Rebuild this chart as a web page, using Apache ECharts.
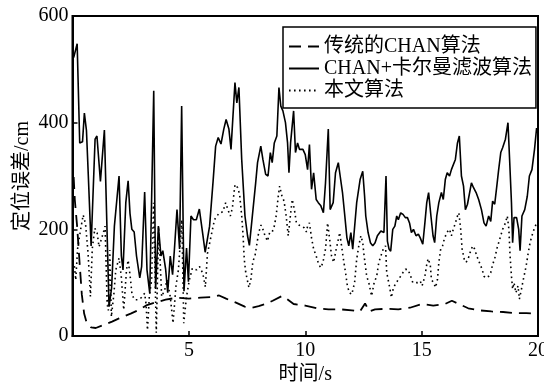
<!DOCTYPE html>
<html><head><meta charset="utf-8">
<script src="https://cdn.jsdelivr.net/npm/echarts@6/dist/echarts.min.js"></script>
<style>html,body{margin:0;padding:0;background:#fff}#c{width:544px;height:383px}</style>
</head><body><div id="c"></div>
<script>
var seriesNames = ['传统的CHAN算法', 'CHAN+卡尔曼滤波算法', '本文算法'];
var xTicks = [0, 5, 10, 15, 20];
var yTicks = [0, 200, 400, 600];

var chanData = [[0.05,298],[0.1,255],[0.2,205],[0.3,140],[0.4,78],[0.5,42],[0.6,26],[0.8,16],[1.0,15],[1.3,20],[1.7,27],[2.0,33],[2.5,42],[2.9,50],[3.2,58],[3.5,62],[4.0,68],[4.5,72],[5.0,70],[5.5,72],[6.0,73],[6.3,76],[6.6,70],[7.0,63],[7.4,55],[7.7,53],[8.0,56],[8.3,60],[8.6,66],[9.0,75],[9.2,70],[9.5,60],[10.0,57],[10.5,52],[11.0,50],[11.5,50],[12.0,48],[12.35,46],[12.57,61],[12.75,46],[13.0,50],[13.5,51],[14.0,50],[14.5,53],[15.0,60],[15.5,57],[16.0,60],[16.3,66],[16.6,60],[17.0,52],[17.5,48],[18.0,46],[18.5,45],[19.0,43],[19.5,43],[20.0,42]];

var kalmanData = [[0.05,522],[0.2,548],[0.31,362],[0.43,364],[0.51,418],[0.6,385],[0.68,300],[0.8,169],[0.97,369],[1.05,375],[1.2,290],[1.37,386],[1.57,55],[1.68,90],[1.8,206],[2.0,300],[2.1,150],[2.17,124],[2.29,250],[2.39,291],[2.47,230],[2.55,200],[2.65,195],[2.75,150],[2.89,109],[2.97,130],[3.1,270],[3.2,124],[3.32,80],[3.49,460],[3.57,88],[3.69,206],[3.8,150],[3.88,160],[4.0,126],[4.09,81],[4.2,150],[4.3,115],[4.38,163],[4.49,237],[4.6,163],[4.69,431],[4.79,84],[4.9,165],[4.98,102],[5.09,225],[5.2,218],[5.32,218],[5.45,238],[5.6,190],[5.7,157],[5.89,206],[6.04,290],[6.15,356],[6.26,372],[6.38,360],[6.5,388],[6.6,406],[6.72,388],[6.81,350],[6.98,475],[7.06,437],[7.15,466],[7.27,331],[7.41,225],[7.52,188],[7.6,170],[7.72,222],[7.87,287],[7.95,325],[8.09,356],[8.18,331],[8.3,303],[8.4,300],[8.5,344],[8.58,325],[8.67,362],[8.78,375],[8.87,466],[8.95,431],[9.04,422],[9.15,400],[9.24,362],[9.3,306],[9.37,362],[9.5,422],[9.58,344],[9.67,362],[9.75,350],[9.9,350],[10.0,340],[10.1,312],[10.18,359],[10.27,275],[10.36,306],[10.47,256],[10.56,250],[10.67,244],[10.78,231],[10.87,287],[10.99,388],[11.07,237],[11.2,250],[11.3,306],[11.42,325],[11.5,300],[11.6,269],[11.7,225],[11.79,184],[11.87,169],[11.96,194],[12.04,163],[12.1,194],[12.21,250],[12.36,294],[12.47,309],[12.55,262],[12.6,225],[12.7,194],[12.8,175],[12.9,169],[13.0,175],[13.1,188],[13.25,197],[13.38,194],[13.47,300],[13.53,178],[13.6,163],[13.67,159],[13.76,200],[13.85,206],[13.93,225],[14.0,218],[14.1,231],[14.2,228],[14.3,222],[14.39,222],[14.48,212],[14.56,194],[14.65,200],[14.76,188],[14.86,191],[14.94,184],[15.05,172],[15.14,212],[15.22,250],[15.3,269],[15.4,225],[15.49,188],[15.56,175],[15.65,225],[15.74,250],[15.85,269],[15.93,256],[16.02,294],[16.1,306],[16.2,300],[16.28,312],[16.36,312],[16.45,331],[16.54,362],[16.62,375],[16.71,300],[16.8,281],[16.88,237],[16.97,247],[17.05,247],[17.14,287],[17.23,278],[17.34,269],[17.45,256],[17.57,237],[17.68,212],[17.77,206],[17.88,225],[17.97,215],[18.05,253],[18.14,247],[18.23,281],[18.31,312],[18.4,344],[18.48,353],[18.6,369],[18.71,400],[18.78,331],[18.86,250],[18.91,175],[18.97,222],[19.08,222],[19.17,200],[19.23,160],[19.31,225],[19.43,237],[19.54,262],[19.63,300],[19.74,312],[19.85,350],[19.94,390]];

var oursData = [[0.08,131],[0.14,105],[0.22,164],[0.35,200],[0.46,227],[0.56,210],[0.67,155],[0.77,74],[0.85,164],[0.96,202],[1.06,193],[1.14,167],[1.23,180],[1.32,193],[1.4,206],[1.49,60],[1.54,48],[1.6,161],[1.67,36],[1.78,80],[1.86,124],[2.0,146],[2.1,110],[2.2,49],[2.32,124],[2.39,142],[2.47,115],[2.56,77],[2.67,68],[2.8,68],[2.96,72],[3.1,80],[3.16,60],[3.22,11],[3.3,74],[3.4,105],[3.48,250],[3.6,6],[3.7,205],[3.83,74],[3.96,86],[4.06,105],[4.2,74],[4.32,24],[4.44,92],[4.55,124],[4.63,174],[4.7,218],[4.78,24],[4.9,74],[5.02,105],[5.15,127],[5.33,124],[5.46,130],[5.6,117],[5.71,92],[5.8,155],[5.92,180],[6.1,218],[6.29,230],[6.46,233],[6.58,250],[6.67,238],[6.78,225],[6.87,240],[6.98,284],[7.1,278],[7.18,265],[7.27,225],[7.33,188],[7.38,144],[7.44,120],[7.52,103],[7.58,91],[7.66,105],[7.75,140],[7.84,150],[7.93,175],[8.0,194],[8.1,208],[8.18,200],[8.27,188],[8.38,178],[8.47,194],[8.58,195],[8.67,206],[8.75,225],[8.84,262],[8.9,281],[9.0,262],[9.09,253],[9.18,225],[9.27,188],[9.36,225],[9.44,256],[9.53,238],[9.62,212],[9.73,208],[9.85,205],[9.96,203],[10.05,195],[10.1,206],[10.18,212],[10.27,184],[10.36,163],[10.47,150],[10.58,134],[10.67,128],[10.76,138],[10.87,163],[10.96,212],[11.05,181],[11.13,150],[11.22,138],[11.33,163],[11.42,181],[11.48,194],[11.56,169],[11.64,144],[11.73,119],[11.81,94],[11.9,81],[12.0,78],[12.07,75],[12.12,100],[12.21,144],[12.3,169],[12.39,188],[12.47,175],[12.53,150],[12.64,112],[12.73,100],[12.85,75],[12.96,100],[13.07,112],[13.16,138],[13.25,150],[13.35,163],[13.45,169],[13.5,119],[13.56,106],[13.64,88],[13.7,72],[13.79,91],[13.87,94],[14.0,106],[14.1,112],[14.2,119],[14.3,125],[14.4,125],[14.5,116],[14.62,100],[14.7,103],[14.83,100],[14.94,103],[15.02,94],[15.14,112],[15.22,134],[15.28,145],[15.37,134],[15.42,106],[15.51,100],[15.6,91],[15.68,106],[15.74,138],[15.82,163],[15.9,169],[15.97,181],[16.08,194],[16.2,200],[16.28,188],[16.36,200],[16.45,212],[16.54,225],[16.6,231],[16.68,200],[16.74,163],[16.83,144],[16.91,138],[17.0,145],[17.08,156],[17.19,169],[17.28,163],[17.37,150],[17.48,138],[17.6,125],[17.68,112],[17.77,109],[17.88,112],[17.97,119],[18.05,134],[18.14,145],[18.23,163],[18.31,175],[18.4,188],[18.48,200],[18.6,212],[18.68,225],[18.75,200],[18.8,150],[18.86,112],[18.91,88],[18.97,100],[19.05,81],[19.14,94],[19.2,69],[19.29,88],[19.37,106],[19.49,131],[19.58,156],[19.66,175],[19.74,188],[19.83,200],[19.94,212]];

var FONT = '"Liberation Serif", "Noto Sans CJK SC", serif';
var chart = echarts.init(document.getElementById('c'), null, {renderer: 'canvas'});
chart.setOption({
  animation: false,
  backgroundColor: '#fff',
  textStyle: {fontFamily: FONT, color: '#000'},
  grid: {left: 72.5, right: 6, top: 16, bottom: 47, show: true, borderColor: '#000', borderWidth: 2,
         backgroundColor: 'transparent', containLabel: false, outerBoundsMode: 'none'},
  legend: {
    left: 283, top: 27, orient: 'vertical',
    borderColor: '#000', borderWidth: 1.5, backgroundColor: '#fff',
    padding: [9, 4, 7, 5], itemGap: 1, itemWidth: 30, itemHeight: 14,
    itemStyle: {color: 'transparent', borderWidth: 0, opacity: 0},
    textStyle: {fontFamily: FONT, fontSize: 20, color: '#000', lineHeight: 21},
    data: seriesNames
  },
  xAxis: {
    type: 'value', min: xTicks[0], max: xTicks[xTicks.length - 1], interval: 5,
    name: '时间/s', nameLocation: 'middle', nameGap: 29, nameMoveOverlap: false,
    nameTextStyle: {fontFamily: FONT, fontSize: 20, color: '#000'},
    axisLine: {show: true, lineStyle: {color: '#000', width: 2}},
    axisTick: {show: true, inside: true, length: 5, lineStyle: {color: '#000', width: 1.5}},
    axisLabel: {showMinLabel: false, fontFamily: FONT, fontSize: 20, color: '#000', margin: 5},
    splitLine: {show: false}
  },
  yAxis: {
    type: 'value', min: yTicks[0], max: yTicks[yTicks.length - 1], interval: 200,
    name: '定位误差/cm', nameLocation: 'middle', nameGap: 40, nameMoveOverlap: false,
    nameTextStyle: {fontFamily: FONT, fontSize: 20, color: '#000'},
    axisLine: {show: true, lineStyle: {color: '#000', width: 2}},
    axisTick: {show: true, inside: true, length: 5, lineStyle: {color: '#000', width: 1.5}},
    axisLabel: {fontFamily: FONT, fontSize: 20, color: '#000', margin: 4},
    splitLine: {show: false}
  },
  series: [
    {name: seriesNames[0], type: 'line', data: chanData, symbol: 'none', smooth: false,
     lineStyle: {color: '#000', width: 1.8, type: [12, 7]}, itemStyle: {color: '#000'}},
    {name: seriesNames[1], type: 'line', data: kalmanData, symbol: 'none',
     lineStyle: {color: '#000', width: 1.6, type: 'solid'}, itemStyle: {color: '#000'}},
    {name: seriesNames[2], type: 'line', data: oursData, symbol: 'none',
     lineStyle: {color: '#000', width: 1.6, type: [1.6, 3.4]}, itemStyle: {color: '#000'}}
  ]
});
</script></body></html>
